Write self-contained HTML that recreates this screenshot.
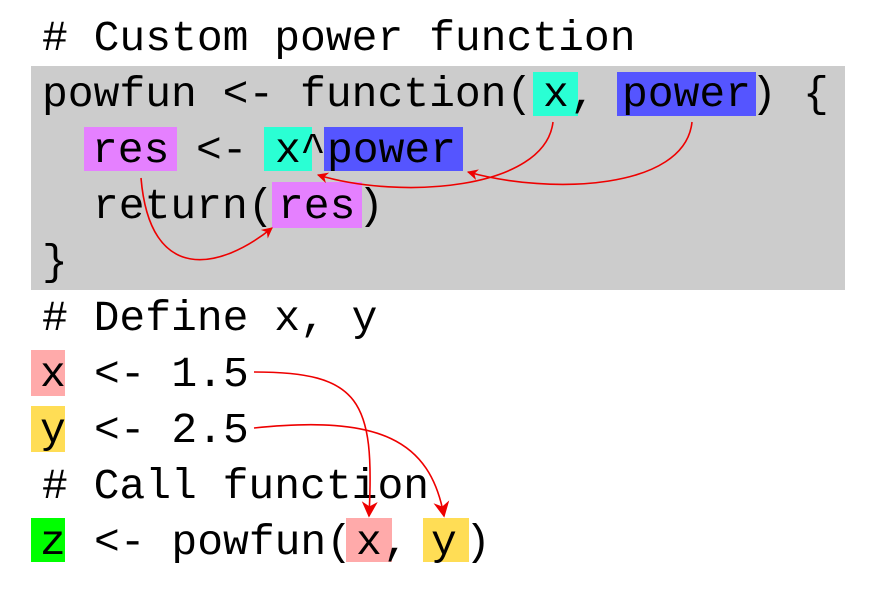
<!DOCTYPE html>
<html><head><style>body{margin:0;background:#fff}</style></head><body>
<svg width="875" height="584" xmlns="http://www.w3.org/2000/svg">
<defs><marker id="a" viewBox="0 0 10 10" refX="9" refY="5" markerWidth="11" markerHeight="11" markerUnits="userSpaceOnUse" orient="auto"><path d="M0,0 L10,5 L0,10 L3,5 z" fill="#e00"/></marker>
<marker id="b" viewBox="0 0 10 10" refX="9" refY="5" markerWidth="16" markerHeight="16" markerUnits="userSpaceOnUse" orient="auto"><path d="M0,0 L10,5 L0,10 L3,5 z" fill="#e00"/></marker></defs>
<rect x="31" y="66" width="814" height="224" fill="#cccccc"/>
<rect x="533" y="72" width="45" height="44" fill="#2affd4"/>
<rect x="617" y="72" width="139" height="44" fill="#5555ff"/>
<rect x="84" y="127" width="93" height="44" fill="#e580ff"/>
<rect x="264" y="127" width="48" height="44" fill="#2affd4"/>
<rect x="324" y="127" width="139" height="44" fill="#5555ff"/>
<rect x="272" y="182" width="90" height="46" fill="#e580ff"/>
<rect x="31" y="350" width="34" height="46" fill="#ffaaaa"/>
<rect x="31" y="406" width="34" height="46" fill="#ffdd55"/>
<rect x="31" y="518" width="34" height="44" fill="#00ff00"/>
<rect x="346" y="518" width="46" height="44" fill="#ffaaaa"/>
<rect x="423" y="518" width="46" height="44" fill="#ffdd55"/>
<g style="font-family:'Liberation Mono',monospace;font-size:43px;white-space:pre" fill="#000">
<text x="42" y="50"># Custom power function</text>
<text x="42" y="106">powfun &lt;- function(</text>
<text x="543" y="106">x</text><text x="570" y="106">,</text>
<text x="622" y="106">power</text><text x="751" y="106">)</text><text x="803" y="106">{</text>
<text x="92" y="162">res</text><text x="196" y="162">&lt;-</text>
<text x="275" y="162">x</text><text x="300" y="162">^</text><text x="327" y="162">power</text>
<text x="93" y="218">return(</text><text x="278" y="218">res</text><text x="358" y="218">)</text>
<text x="42" y="274">}</text>
<text x="42" y="330"># Define x, y</text>
<text x="40" y="386">x</text><text x="94" y="386">&lt;- 1.5</text>
<text x="40" y="442">y</text><text x="94" y="442">&lt;- 2.5</text>
<text x="42" y="498"># Call function</text>
<text x="40" y="554">z</text><text x="94" y="554">&lt;- powfun(</text>
<text x="356" y="554">x</text><text x="383" y="554">,</text><text x="431" y="554">y</text><text x="465" y="554">)</text>
</g>
<g fill="none" stroke="#e00" stroke-width="1.6">
<path d="M553,122 C545,190 400,200 318,175" marker-end="url(#a)"/>
<path d="M692,122 C685,190 550,195 468,172" marker-end="url(#a)"/>
<path d="M141,178 C150,285 220,270 272,228" marker-end="url(#a)"/>
<path d="M254,372 C360,372 375,400 369,516" marker-end="url(#b)"/>
<path d="M254,428 C380,415 430,440 444,516" marker-end="url(#b)"/>
</g>
</svg>
</body></html>
